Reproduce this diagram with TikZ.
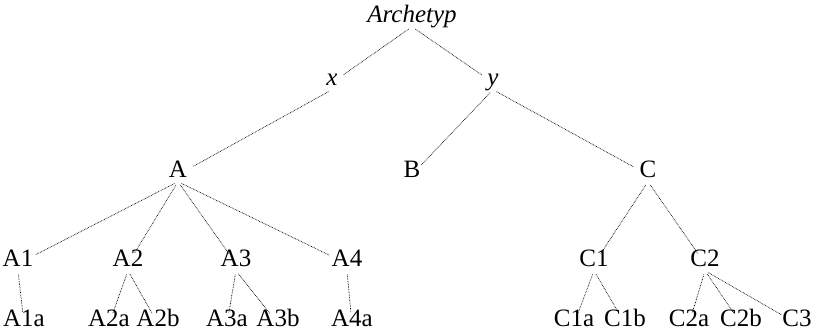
\documentclass[tikz,border=0pt]{standalone}
\usepackage{fontspec}
\setmainfont{Liberation Serif}

\begin{document}
\begin{tikzpicture}[x=1pt, y=-1pt,
    lbl/.style={anchor=base, inner sep=2pt, text height=0.7em, text depth=0.25em,
        font=\fontsize{25}{30}\selectfont},
    edge/.style={line width=0.7pt, dash pattern=on 0.7pt off 0.9pt, shorten >=4pt, shorten <=4pt}]

\useasboundingbox (0,0) rectangle (815,333);

% top
\node[lbl] (Arch) at (412,22) {\itshape Archetyp};
\node[lbl] (x) at (332,85) {\itshape x};
\node[lbl] (y) at (493,85) {\itshape y};

% groups
\node[lbl] (A) at (178,177) {A};
\node[lbl] (B) at (412,177) {B};
\node[lbl] (C) at (648,177) {C};

\node[lbl] (A1) at (18,266) {A1};
\node[lbl] (A2) at (128,266) {A2};
\node[lbl] (A3) at (236,266) {A3};
\node[lbl] (A4) at (347,266) {A4};
\node[lbl] (C1) at (594,266) {C1};
\node[lbl] (C2) at (705,266) {C2};

% leaves
\node[lbl] (A1a) at (24,326) {A1a};
\node[lbl] (A2a) at (109,326) {A2a};
\node[lbl] (A2b) at (158,326) {A2b};
\node[lbl] (A3a) at (227,326) {A3a};
\node[lbl] (A3b) at (278,326) {A3b};
\node[lbl] (A4a) at (352,326) {A4a};
\node[lbl] (C1a) at (574,326) {C1a};
\node[lbl] (C1b) at (625,326) {C1b};
\node[lbl] (C2a) at (689,326) {C2a};
\node[lbl] (C2b) at (741,326) {C2b};
\node[lbl] (C3) at (797,326) {C3};

\foreach \p/\c in {Arch/x, Arch/y, x/A, y/B, y/C,
    A/A1, A/A2, A/A3, A/A4, C/C1, C/C2,
    A1/A1a, A2/A2a, A2/A2b, A3/A3a, A3/A3b, A4/A4a,
    C1/C1a, C1/C1b, C2/C2a, C2/C2b, C2/C3}
    \draw[edge] (\p.south) -- (\c);
\end{tikzpicture}
\end{document}
